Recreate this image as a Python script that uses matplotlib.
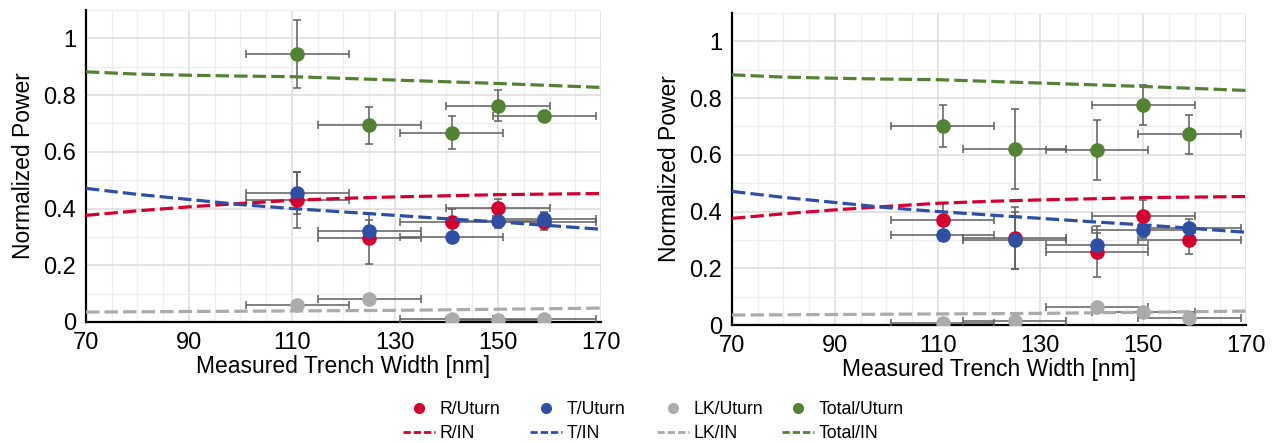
import matplotlib
matplotlib.use("Agg")
import matplotlib.pyplot as plt
from matplotlib.lines import Line2D
from matplotlib.ticker import MultipleLocator

plt.rcParams['font.family'] = ['Liberation Sans', 'DejaVu Sans']

# ---------------- data ----------------
width_nm = [111, 125, 141, 150, 159]
width_err = [10, 10, 10, 10, 10]

# left panel (Uturn measurements)
r_left = [0.430, 0.296, 0.353, 0.402, 0.353]
r_left_err = [0.100, 0.090, 0.045, 0.030, 0.030]
t_left = [0.455, 0.320, 0.300, 0.355, 0.362]
t_left_err = [0.075, 0.040, 0.010, 0.025, 0.025]
lk_left = [0.059, 0.082, 0.012, 0.006, 0.009]
lk_left_err = [0.005, 0.005, 0.005, 0.005, 0.005]
total_left = [0.944, 0.693, 0.667, 0.762, 0.725]
total_left_err = [0.120, 0.065, 0.058, 0.055, 0.010]

# right panel (Uturn measurements)
r_right = [0.371, 0.307, 0.259, 0.386, 0.301]
r_right_err = [0.060, 0.110, 0.090, 0.055, 0.050]
t_right = [0.316, 0.298, 0.283, 0.336, 0.342]
t_right_err = [0.020, 0.100, 0.040, 0.030, 0.030]
lk_right = [0.006, 0.014, 0.065, 0.047, 0.024]
lk_right_err = [0.005, 0.005, 0.005, 0.005, 0.005]
total_right = [0.702, 0.621, 0.616, 0.775, 0.672]
total_right_err = [0.075, 0.140, 0.105, 0.070, 0.070]

# simulated IN curves (same in both panels)
x_in = [70, 80, 90, 100, 110, 120, 130, 140, 150, 160, 170]
r_in = [0.376, 0.392, 0.406, 0.418, 0.429, 0.436, 0.441, 0.445, 0.449, 0.451, 0.453]
t_in = [0.471, 0.450, 0.432, 0.414, 0.400, 0.388, 0.376, 0.364, 0.353, 0.340, 0.327]
lk_in = [0.035, 0.036, 0.037, 0.038, 0.039, 0.040, 0.041, 0.043, 0.045, 0.047, 0.049]
total_in = [0.882, 0.874, 0.870, 0.867, 0.865, 0.859, 0.853, 0.847, 0.841, 0.834, 0.827]

x_ticks = [70, 90, 110, 130, 150, 170]
y_ticks = [0, 0.2, 0.4, 0.6, 0.8, 1.0]
y_ticklabels = ['0', '0.2', '0.4', '0.6', '0.8', '1']

labels_uturn = ['R/Uturn', 'T/Uturn', 'LK/Uturn', 'Total/Uturn']
labels_in = ['R/IN', 'T/IN', 'LK/IN', 'Total/IN']

# ---------------- style ----------------
C_R = '#D5002F'
C_T = '#2E4FA3'
C_LK = '#ABABAB'
C_TOT = '#548235'
C_ERR = '#5F5F5F'
colors = [C_R, C_T, C_LK, C_TOT]

fig = plt.figure(figsize=(12.77, 4.43), dpi=100)
W, H = 1277, 443
ax1 = fig.add_axes([86 / W, 1 - 322 / H, 515 / W, 312 / H])
ax2 = fig.add_axes([732 / W, 1 - 325 / H, 514 / W, 312 / H])

panels = [
    (ax1, [r_left, t_left, lk_left, total_left],
     [r_left_err, t_left_err, lk_left_err, total_left_err]),
    (ax2, [r_right, t_right, lk_right, total_right],
     [r_right_err, t_right_err, lk_right_err, total_right_err]),
]
in_curves = [r_in, t_in, lk_in, total_in]

for ax, series, errs in panels:
    ax.set_xlim(70, 170)
    ax.set_ylim(0, 1.1)
    ax.set_xticks(x_ticks)
    ax.set_yticks(y_ticks)
    ax.set_yticklabels(y_ticklabels)
    ax.xaxis.set_minor_locator(MultipleLocator(5))
    ax.yaxis.set_minor_locator(MultipleLocator(0.1))
    ax.grid(which='major', color='#DCDCDC', lw=1.1, zorder=0)
    ax.grid(which='minor', color='#EEEEEE', lw=0.9, zorder=0)
    ax.set_axisbelow(True)
    ax.tick_params(which='both', length=0, labelsize=17, pad=7)
    for s in ['top', 'right']:
        ax.spines[s].set_visible(False)
    for s in ['left', 'bottom']:
        ax.spines[s].set_color('black')
        ax.spines[s].set_linewidth(1.6)
    ax.set_xlabel('Measured Trench Width [nm]', fontsize=16.5, labelpad=1)
    ax.set_ylabel('Normalized Power', fontsize=16.5, labelpad=6)

    # measured points with error bars
    order = [2, 3, 0, 1]  # gray, green, red, blue (blue drawn above red)
    for i in order:
        ax.errorbar(width_nm, series[i], xerr=width_err, yerr=errs[i],
                    fmt='none', ecolor=C_ERR, elinewidth=1.1, capsize=2.6,
                    capthick=1.1, zorder=3)
    for i in order:
        ax.plot(width_nm, series[i], 'o', color=colors[i], ms=10.5,
                mec='none', zorder=4)
    # IN curves
    for i in range(4):
        ax.plot(x_in, in_curves[i], color=colors[i], lw=2.3,
                dashes=(4.2, 1.6), zorder=5, clip_on=False)

# ---------------- legend ----------------
col_x = [403, 530, 657, 782]
for i in range(4):
    handles = [
        Line2D([], [], marker='o', ls='none', color=colors[i], ms=8, mec='none'),
        Line2D([], [], color=colors[i], lw=2.0, dashes=(2.6, 1.1)),
    ]
    fig.legend(handles, [labels_uturn[i], labels_in[i]],
               loc='center left', bbox_to_anchor=(col_x[i] / W, 1 - 421.5 / H),
               frameon=False, fontsize=12.7, ncol=1, handlelength=1.8,
               handletextpad=0.25, labelspacing=0.38, borderpad=0,
               borderaxespad=0, numpoints=1)

fig.savefig('out.png', dpi=100)
